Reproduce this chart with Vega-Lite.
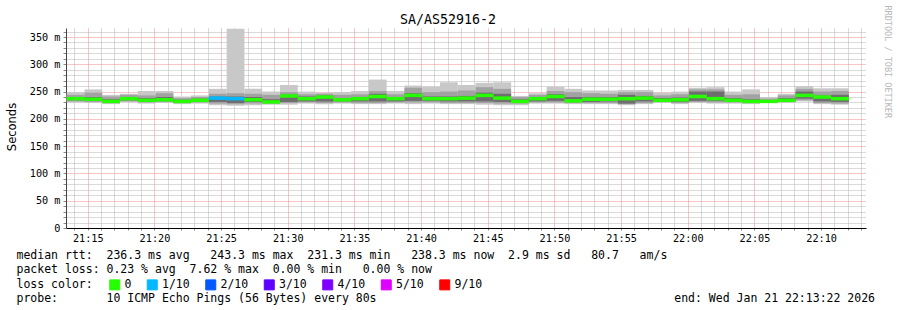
{
  "$schema": "https://vega.github.io/schema/vega-lite/v6.json",
  "width": 800,
  "height": 200,
  "autosize": "none",
  "padding": {"left": 66, "top": 28, "right": 31, "bottom": 82},
  "background": "white",
  "title": {"text": "SA/AS52916-2", "font": "DejaVu Sans Mono", "fontSize": 13.3, "fontWeight": "normal", "color": "#000", "anchor": "middle", "frame": "group", "baseline": "alphabetic", "offset": 4, "dx": -18, "dy": 36},
  "config": {"view": {"stroke": null}},
  "data": {"values": [
    {"t": "2026-01-21T21:13:25Z", "t2": "2026-01-21T21:14:45Z", "mn": 230, "lo2": 232, "lo3": 234, "med": 237, "hi3": 240, "hi2": 244, "mx": 249, "loss": "0"},
    {"t": "2026-01-21T21:14:45Z", "t2": "2026-01-21T21:16:05Z", "mn": 229, "lo2": 231, "lo3": 233, "med": 236, "hi3": 240, "hi2": 248, "mx": 254, "loss": "0"},
    {"t": "2026-01-21T21:16:05Z", "t2": "2026-01-21T21:17:25Z", "mn": 227, "lo2": 229, "lo3": 231, "med": 232, "hi3": 236, "hi2": 241, "mx": 244, "loss": "0"},
    {"t": "2026-01-21T21:17:25Z", "t2": "2026-01-21T21:18:45Z", "mn": 231, "lo2": 232, "lo3": 234, "med": 237, "hi3": 240, "hi2": 244, "mx": 246, "loss": "0"},
    {"t": "2026-01-21T21:18:45Z", "t2": "2026-01-21T21:20:05Z", "mn": 228, "lo2": 230, "lo3": 232, "med": 234, "hi3": 238, "hi2": 243, "mx": 251, "loss": "0"},
    {"t": "2026-01-21T21:20:05Z", "t2": "2026-01-21T21:21:25Z", "mn": 229, "lo2": 231, "lo3": 233, "med": 235, "hi3": 240, "hi2": 247, "mx": 251, "loss": "0"},
    {"t": "2026-01-21T21:21:25Z", "t2": "2026-01-21T21:22:45Z", "mn": 227, "lo2": 229, "lo3": 230, "med": 232, "hi3": 235, "hi2": 238, "mx": 241, "loss": "0"},
    {"t": "2026-01-21T21:22:45Z", "t2": "2026-01-21T21:24:05Z", "mn": 228, "lo2": 230, "lo3": 232, "med": 234, "hi3": 237, "hi2": 240, "mx": 243, "loss": "0"},
    {"t": "2026-01-21T21:24:05Z", "t2": "2026-01-21T21:25:25Z", "mn": 225, "lo2": 228, "lo3": 231, "med": 238, "hi3": 241, "hi2": 246, "mx": 255, "loss": "1/10"},
    {"t": "2026-01-21T21:25:25Z", "t2": "2026-01-21T21:26:45Z", "mn": 224, "lo2": 227, "lo3": 229, "med": 237, "hi3": 241, "hi2": 247, "mx": 365, "loss": "1/10"},
    {"t": "2026-01-21T21:26:45Z", "t2": "2026-01-21T21:28:05Z", "mn": 225, "lo2": 228, "lo3": 231, "med": 235, "hi3": 240, "hi2": 246, "mx": 255, "loss": "0"},
    {"t": "2026-01-21T21:28:05Z", "t2": "2026-01-21T21:29:25Z", "mn": 226, "lo2": 228, "lo3": 229, "med": 231, "hi3": 236, "hi2": 244, "mx": 250, "loss": "0"},
    {"t": "2026-01-21T21:29:25Z", "t2": "2026-01-21T21:30:45Z", "mn": 226, "lo2": 229, "lo3": 231, "med": 242, "hi3": 245, "hi2": 249, "mx": 262, "loss": "0"},
    {"t": "2026-01-21T21:30:45Z", "t2": "2026-01-21T21:32:05Z", "mn": 228, "lo2": 230, "lo3": 232, "med": 237, "hi3": 241, "hi2": 245, "mx": 250, "loss": "0"},
    {"t": "2026-01-21T21:32:05Z", "t2": "2026-01-21T21:33:25Z", "mn": 227, "lo2": 229, "lo3": 232, "med": 240, "hi3": 243, "hi2": 246, "mx": 248, "loss": "0"},
    {"t": "2026-01-21T21:33:25Z", "t2": "2026-01-21T21:34:45Z", "mn": 228, "lo2": 230, "lo3": 232, "med": 235, "hi3": 238, "hi2": 244, "mx": 249, "loss": "0"},
    {"t": "2026-01-21T21:34:45Z", "t2": "2026-01-21T21:36:05Z", "mn": 227, "lo2": 229, "lo3": 232, "med": 237, "hi3": 240, "hi2": 245, "mx": 251, "loss": "0"},
    {"t": "2026-01-21T21:36:05Z", "t2": "2026-01-21T21:37:25Z", "mn": 227, "lo2": 229, "lo3": 232, "med": 241, "hi3": 246, "hi2": 251, "mx": 272, "loss": "0"},
    {"t": "2026-01-21T21:37:25Z", "t2": "2026-01-21T21:38:45Z", "mn": 228, "lo2": 230, "lo3": 232, "med": 237, "hi3": 240, "hi2": 245, "mx": 251, "loss": "0"},
    {"t": "2026-01-21T21:38:45Z", "t2": "2026-01-21T21:40:05Z", "mn": 227, "lo2": 230, "lo3": 233, "med": 243, "hi3": 247, "hi2": 257, "mx": 261, "loss": "0"},
    {"t": "2026-01-21T21:40:05Z", "t2": "2026-01-21T21:41:25Z", "mn": 228, "lo2": 230, "lo3": 233, "med": 237, "hi3": 241, "hi2": 249, "mx": 259, "loss": "0"},
    {"t": "2026-01-21T21:41:25Z", "t2": "2026-01-21T21:42:45Z", "mn": 227, "lo2": 229, "lo3": 232, "med": 237, "hi3": 241, "hi2": 250, "mx": 267, "loss": "0"},
    {"t": "2026-01-21T21:42:45Z", "t2": "2026-01-21T21:44:05Z", "mn": 227, "lo2": 229, "lo3": 232, "med": 238, "hi3": 242, "hi2": 252, "mx": 262, "loss": "0"},
    {"t": "2026-01-21T21:44:05Z", "t2": "2026-01-21T21:45:25Z", "mn": 226, "lo2": 229, "lo3": 232, "med": 243, "hi3": 248, "hi2": 258, "mx": 266, "loss": "0"},
    {"t": "2026-01-21T21:45:25Z", "t2": "2026-01-21T21:46:45Z", "mn": 225, "lo2": 228, "lo3": 231, "med": 238, "hi3": 246, "hi2": 255, "mx": 267, "loss": "0"},
    {"t": "2026-01-21T21:46:45Z", "t2": "2026-01-21T21:48:05Z", "mn": 225, "lo2": 228, "lo3": 230, "med": 232, "hi3": 236, "hi2": 240, "mx": 242, "loss": "0"},
    {"t": "2026-01-21T21:48:05Z", "t2": "2026-01-21T21:49:25Z", "mn": 228, "lo2": 230, "lo3": 232, "med": 237, "hi3": 240, "hi2": 244, "mx": 247, "loss": "0"},
    {"t": "2026-01-21T21:49:25Z", "t2": "2026-01-21T21:50:45Z", "mn": 228, "lo2": 230, "lo3": 233, "med": 241, "hi3": 245, "hi2": 251, "mx": 259, "loss": "0"},
    {"t": "2026-01-21T21:50:45Z", "t2": "2026-01-21T21:52:05Z", "mn": 227, "lo2": 229, "lo3": 231, "med": 233, "hi3": 240, "hi2": 249, "mx": 255, "loss": "0"},
    {"t": "2026-01-21T21:52:05Z", "t2": "2026-01-21T21:53:25Z", "mn": 227, "lo2": 229, "lo3": 231, "med": 236, "hi3": 240, "hi2": 247, "mx": 252, "loss": "0"},
    {"t": "2026-01-21T21:53:25Z", "t2": "2026-01-21T21:54:45Z", "mn": 227, "lo2": 229, "lo3": 232, "med": 236, "hi3": 240, "hi2": 246, "mx": 252, "loss": "0"},
    {"t": "2026-01-21T21:54:45Z", "t2": "2026-01-21T21:56:05Z", "mn": 225, "lo2": 227, "lo3": 228, "med": 237, "hi3": 244, "hi2": 249, "mx": 253, "loss": "0"},
    {"t": "2026-01-21T21:56:05Z", "t2": "2026-01-21T21:57:25Z", "mn": 227, "lo2": 229, "lo3": 232, "med": 238, "hi3": 242, "hi2": 249, "mx": 253, "loss": "0"},
    {"t": "2026-01-21T21:57:25Z", "t2": "2026-01-21T21:58:45Z", "mn": 229, "lo2": 231, "lo3": 233, "med": 234, "hi3": 238, "hi2": 243, "mx": 248, "loss": "0"},
    {"t": "2026-01-21T21:58:45Z", "t2": "2026-01-21T22:00:05Z", "mn": 227, "lo2": 229, "lo3": 231, "med": 235, "hi3": 239, "hi2": 245, "mx": 250, "loss": "0"},
    {"t": "2026-01-21T22:00:05Z", "t2": "2026-01-21T22:01:25Z", "mn": 229, "lo2": 231, "lo3": 233, "med": 241, "hi3": 250, "hi2": 254, "mx": 257, "loss": "0"},
    {"t": "2026-01-21T22:01:25Z", "t2": "2026-01-21T22:02:45Z", "mn": 228, "lo2": 230, "lo3": 233, "med": 237, "hi3": 250, "hi2": 254, "mx": 258, "loss": "0"},
    {"t": "2026-01-21T22:02:45Z", "t2": "2026-01-21T22:04:05Z", "mn": 228, "lo2": 230, "lo3": 232, "med": 234, "hi3": 238, "hi2": 244, "mx": 250, "loss": "0"},
    {"t": "2026-01-21T22:04:05Z", "t2": "2026-01-21T22:05:25Z", "mn": 227, "lo2": 229, "lo3": 231, "med": 232, "hi3": 236, "hi2": 245, "mx": 254, "loss": "0"},
    {"t": "2026-01-21T22:05:25Z", "t2": "2026-01-21T22:06:45Z", "mn": 229, "lo2": 230, "lo3": 231, "med": 232, "hi3": 234, "hi2": 237, "mx": 240, "loss": "0"},
    {"t": "2026-01-21T22:06:45Z", "t2": "2026-01-21T22:08:05Z", "mn": 229, "lo2": 231, "lo3": 232, "med": 234, "hi3": 238, "hi2": 243, "mx": 246, "loss": "0"},
    {"t": "2026-01-21T22:08:05Z", "t2": "2026-01-21T22:09:25Z", "mn": 232, "lo2": 234, "lo3": 237, "med": 243, "hi3": 250, "hi2": 255, "mx": 260, "loss": "0"},
    {"t": "2026-01-21T22:09:25Z", "t2": "2026-01-21T22:10:45Z", "mn": 227, "lo2": 229, "lo3": 232, "med": 240, "hi3": 243, "hi2": 250, "mx": 256, "loss": "0"},
    {"t": "2026-01-21T22:10:45Z", "t2": "2026-01-21T22:12:05Z", "mn": 226, "lo2": 228, "lo3": 231, "med": 237, "hi3": 244, "hi2": 251, "mx": 256, "loss": "0"}
  ]},
  "resolve": {"axis": {"y": "independent"}},
  "layer": [
    {
      "mark": {"type": "rect", "color": "#c8c8c8"},
      "encoding": {
        "x": {"field": "t", "type": "temporal",
          "scale": {"type": "utc", "domain": [{"year": 2026, "month": 1, "date": 21, "hours": 21, "minutes": 13, "seconds": 22, "utc": true}, {"year": 2026, "month": 1, "date": 21, "hours": 22, "minutes": 13, "seconds": 22, "utc": true}], "nice": false},
          "axis": {
            "orient": "bottom",
            "tickCount": 60,
            "labelExpr": "utcminutes(datum.value) % 5 == 0 ? utcFormat(datum.value, '%H:%M') : ''",
            "labelOverlap": false, "labelFlush": false,
            "labelFont": "DejaVu Sans Mono", "labelFontSize": 10.2, "labelColor": "#000", "labelPadding": 3,
            "ticks": true, "tickSize": 2, "tickColor": "#888",
            "grid": true,
            "gridColor": {"condition": {"test": "utcminutes(datum.value) % 5 == 0", "value": "#f08c8c"}, "value": "#b4b4b4"},
            "gridDash": [1, 1], "gridOpacity": 1, "gridWidth": 1,
            "domainColor": "#000", "domainWidth": 1,
            "title": ["median rtt:\u00a0\u00a0236.3 ms avg\u00a0\u00a0\u00a0243.3 ms max\u00a0\u00a0231.3 ms min\u00a0\u00a0\u00a0238.3 ms now\u00a0\u00a02.9 ms sd\u00a0\u00a0\u00a080.7\u00a0\u00a0\u00a0am/s", "packet loss: 0.23 % avg\u00a0\u00a07.62 % max\u00a0\u00a00.00 % min\u00a0\u00a0\u00a00.00 % now", "loss color:", "probe:\u00a0\u00a0\u00a0\u00a0\u00a0\u00a0\u00a010 ICMP Echo Pings (56 Bytes) every 80s\u00a0\u00a0\u00a0\u00a0\u00a0\u00a0\u00a0\u00a0\u00a0\u00a0\u00a0\u00a0\u00a0\u00a0\u00a0\u00a0\u00a0\u00a0\u00a0\u00a0\u00a0\u00a0\u00a0\u00a0\u00a0\u00a0\u00a0\u00a0\u00a0\u00a0\u00a0\u00a0\u00a0\u00a0\u00a0\u00a0\u00a0\u00a0\u00a0\u00a0\u00a0\u00a0\u00a0end: Wed Jan 21 22:13:22 2026"],
            "titleFont": "DejaVu Sans Mono", "titleFontSize": 11.5, "titleFontWeight": "normal", "titleColor": "#000",
            "titleAnchor": "start", "titleAlign": "left", "titleBaseline": "alphabetic",
            "titleX": -50, "titleY": 30, "titleLineHeight": 14.5
          }
        },
        "x2": {"field": "t2"},
        "y": {"field": "mn", "type": "quantitative",
          "scale": {"domain": [0, 366.5], "nice": false, "zero": true},
          "axis": {
            "orient": "left",
            "values": [0, 10, 20, 30, 40, 50, 60, 70, 80, 90, 100, 110, 120, 130, 140, 150, 160, 170, 180, 190, 200, 210, 220, 230, 240, 250, 260, 270, 280, 290, 300, 310, 320, 330, 340, 350, 360],
            "labelExpr": "datum.value == 0 ? '0' : (datum.value % 50 == 0 ? datum.value + ' m' : '')",
            "labelOverlap": false, "labelFlush": false,
            "labelFont": "DejaVu Sans Mono", "labelFontSize": 10.2, "labelColor": "#000", "labelPadding": 3,
            "ticks": true, "tickSize": 3, "tickColor": "#888",
            "grid": true,
            "gridColor": {"condition": {"test": "datum.value % 50 == 0", "value": "#f08c8c"}, "value": "#b4b4b4"},
            "gridDash": [1, 1], "gridOpacity": 1, "gridWidth": 1,
            "domainColor": "#444", "domainWidth": 1,
            "title": "Seconds", "titleFont": "DejaVu Sans", "titleFontSize": 11.5, "titleFontWeight": "normal", "titleColor": "#000",
            "titleAngle": -90, "titleAlign": "center", "titleBaseline": "middle", "titleX": -54, "titleY": 98.5
          }
        },
        "y2": {"field": "mx"}
      }
    },
    {
      "mark": {"type": "rect", "color": "#a2a2a2"},
      "encoding": {
        "x": {"field": "t", "type": "temporal"},
        "x2": {"field": "t2"},
        "y": {"field": "lo2", "type": "quantitative", "scale": {"domain": [0, 366.5], "nice": false}, "axis": null},
        "y2": {"field": "hi2"}
      }
    },
    {
      "mark": {"type": "rect", "color": "#6e6e6e"},
      "encoding": {
        "x": {"field": "t", "type": "temporal"},
        "x2": {"field": "t2"},
        "y": {"field": "lo3", "type": "quantitative", "scale": {"domain": [0, 366.5], "nice": false}, "axis": null},
        "y2": {"field": "hi3"}
      }
    },
    {
      "mark": {"type": "rect"},
      "encoding": {
        "x": {"field": "t", "type": "temporal"},
        "x2": {"field": "t2"},
        "y": {"field": "med", "type": "quantitative", "scale": {"domain": [0, 366.5], "nice": false}, "axis": null},
        "y2": {"field": "med"},
        "color": {"field": "loss", "type": "nominal",
          "scale": {"domain": ["0", "1/10", "2/10", "3/10", "4/10", "5/10", "9/10"], "range": ["#26ff00", "#00b8ff", "#0059ff", "#5e00ff", "#7e00ff", "#dd00ff", "#ff0000"]},
          "legend": {"orient": "none", "legendX": 43, "legendY": 251, "direction": "horizontal", "title": null, "padding": 0,
            "symbolType": "square", "symbolSize": 100, "symbolStrokeColor": "#000", "symbolStrokeWidth": 1, "symbolOpacity": 1,
            "labelFont": "DejaVu Sans Mono", "labelFontSize": 11.5, "labelColor": "#000", "labelOffset": 4, "columnPadding": 12.5}
        }
      }
    },
    {
      "mark": {"type": "rule", "strokeWidth": 3.5, "opacity": 1},
      "encoding": {
        "x": {"field": "t", "type": "temporal"},
        "x2": {"field": "t2"},
        "y": {"field": "med", "type": "quantitative", "scale": {"domain": [0, 366.5], "nice": false},
          "axis": {"orient": "right", "domain": false, "ticks": false, "labels": false, "grid": false,
            "title": "RRDTOOL / TOBI OETIKER", "titleAngle": 90, "titleFont": "DejaVu Sans Mono", "titleFontSize": 8.5, "titleFontWeight": "normal", "titleColor": "#b8b8b8",
            "titleAlign": "left", "titleBaseline": "middle", "titleX": 21, "titleY": -23}},
        "color": {"field": "loss", "type": "nominal"}
      }
    }
  ]
}
